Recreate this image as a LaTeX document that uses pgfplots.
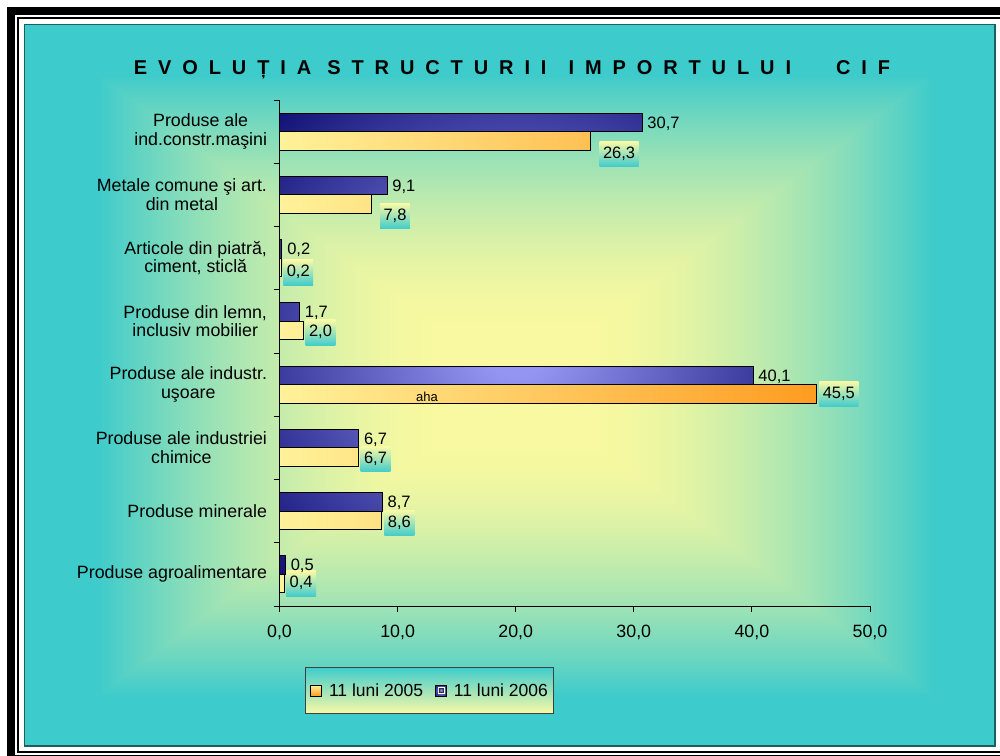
\documentclass[border=0pt]{standalone}
\usepackage{pgfplots}
\pgfplotsset{compat=1.18}
\usepackage{pgfplotstable}
\usepackage{fontspec}
\setmainfont{Liberation Sans}

\definecolor{panelB}{HTML}{1D5E5E}
\definecolor{blueIn}{HTML}{9494F2}
\definecolor{blueOut}{HTML}{141478}
\definecolor{orL}{HTML}{FFF29A}
\definecolor{orR}{HTML}{FF9C20}
\definecolor{lblY}{HTML}{FAFAA6}
\definecolor{lblC}{HTML}{40CCCC}

% rectangular "from centre" background gradient, yellow centre -> cyan border
\pgfdeclarefunctionalshading{bgfunc}{\pgfpointorigin}{\pgfpoint{967.3bp}{719.1bp}}{}{
  359.6 sub abs 359.6 div
  exch 488.7 sub abs 483.2 div
  2 copy lt {exch} if pop
  0.15 sub 0.71 div
  0 2 copy lt {exch} if pop
  1 2 copy gt {exch} if pop
  1.7 exp
  dup -0.730 mul 0.973 add
  exch dup -0.180 mul 0.976 add
  exch 0.169 mul 0.627 add
}
\pgfdeclareradialshading{bluebar}{\pgfpoint{0bp}{0bp}}{color(0bp)=(blueIn); color(3.5bp)=(blueIn); color(35bp)=(blueOut); color(50bp)=(blueOut)}

\newcommand{\lbl}{\fontsize{17.8}{18.5}\selectfont}
\newcommand{\val}{\fontsize{16.5}{18}\selectfont}
\newcommand{\gs}{\hspace{10.9pt}}

\pgfplotstableread{
y x dx dy
8 26.3 9 13
7 7.8 8 12
6 0.2 1 5
5 2.0 2 2
4 45.5 2 0
3 6.7 1.5 2
2 8.6 3 2.5
1 0.4 1.5 0
}\orangedata
\pgfplotstableread{
y x
8 30.7
7 9.1
6 0.2
5 1.7
4 40.1
3 6.7
2 8.7
1 0.5
}\bluedata

\begin{document}
\begin{tikzpicture}
\useasboundingbox (0pt,0pt) rectangle (1000pt,-755pt);
\begin{scope}
\clip (0pt,0pt) rectangle (1000pt,-755pt);
\fill[black] (7pt,-7pt) rectangle (1012pt,-763pt);
\fill[white] (15pt,-15pt) rectangle (1004pt,-755pt);
\fill[black] (17pt,-17pt) rectangle (1002pt,-753pt);
\fill[white] (19pt,-19pt) rectangle (1000pt,-751pt);
\node[inner sep=0pt, outer sep=0pt, anchor=south west] at (24.5pt,-746pt) {\pgfuseshading{bgfunc}};
\draw[panelB, line width=1.5pt] (24.5pt,-24.5pt) rectangle (995pt,-746pt);
\end{scope}

\node[font=\fontsize{20}{22}\selectfont\bfseries, anchor=base, inner sep=0pt] at (512pt,-74pt)
 {E\gs V\gs O\gs L\gs U\gs Ț\gs I\gs A\hspace{16pt}S\gs T\gs R\gs U\gs C\gs T\gs U\gs R\gs I\gs I\hspace{22pt}I\gs M\gs P\gs O\gs R\gs T\gs U\gs L\gs U\gs I\hspace{45pt}C\gs I\gs F};

\begin{axis}[
  at={(279.5pt,-606pt)}, anchor=south west,
  scale only axis, width=590.5pt, height=506pt,
  xmin=0, xmax=50, ymin=0.5, ymax=8.5,
  clip=false,
  axis x line*=bottom, axis y line*=left,
  axis line style={black, line width=1pt},
  tick align=outside,
  major tick length=6pt,
  tick style={black, line width=1pt},
  xtick={0,10,...,50},
  scaled x ticks=false,
  xticklabel style={font=\lbl, yshift=-10pt, /pgf/number format/.cd, fixed, fixed zerofill, precision=1, use comma, assume math mode=true},
  ytick={0.5,1.5,...,8.5},
  yticklabels={},
  extra y ticks={1,2,3,4,5,6,7,8},
  extra y tick labels={{Produse agroalimentare},{Produse minerale},{Produse ale industriei\\chimice},{Produse ale industr.\\uşoare},{Produse din lemn,\\inclusiv mobilier},{Articole din piatră,\\ciment, sticlă},{Metale comune şi art.\\din metal},{Produse ale\\ind.constr.maşini}},
  extra y tick style={major tick length=0pt, yticklabel style={font=\lbl, align=center, xshift=-9pt}},
  xbar, bar width=18.5pt,
  legend style={at={(0.0432,-0.1206)}, anchor=north west, draw=black!75, line width=0.8pt,
    top color=lblC, bottom color=lblY, font=\fontsize{17.5}{18}\selectfont,
    inner xsep=5pt, inner ysep=16pt, nodes={inner sep=0pt},
    /tikz/every odd column/.append style={column sep=7pt},
    /tikz/every even column/.append style={column sep=12pt}},
  legend columns=2,
]
\addplot[bar shift=-9.25pt, draw=black, line width=0.8pt, left color=orL, right color=orR,
  point meta=x,
  nodes near coords={\pgfmathprintnumber[fixed,fixed zerofill,precision=1,use comma,assume math mode=true]{\pgfplotspointmeta}},
  visualization depends on={\thisrow{dx} \as \lx},
  visualization depends on={\thisrow{dy} \as \ly},
  every node near coord/.append style={anchor=west, xshift=\lx pt, yshift=-\ly pt, text=black, font=\val,
    top color=lblY, bottom color=lblC, inner xsep=3.5pt, inner ysep=5pt, text height=12pt, text depth=3.5pt},
  legend image code/.code={\draw[black, line width=0.6pt, top color=orL, bottom color=orR] (0pt,-5.5pt) rectangle (11pt,5.5pt);}
] table[x=x,y=y] {\orangedata};
\addlegendentry{11 luni 2005}
\addplot[bar shift=9.25pt, draw=black, line width=0.8pt, shading=bluebar, shade,
  point meta=x,
  nodes near coords={\pgfmathprintnumber[fixed,fixed zerofill,precision=1,use comma,assume math mode=true]{\pgfplotspointmeta}},
  every node near coord/.append style={anchor=west, xshift=2pt, yshift=-1pt, text=black, font=\val, inner xsep=3pt},
  legend image code/.code={\fill[black] (0pt,-5.5pt) rectangle (11pt,5.5pt); \fill[white] (2.5pt,-3pt) rectangle (8.5pt,3.5pt); \fill[black!80] (3.5pt,-2pt) rectangle (7.5pt,2.5pt);}
] table[x=x,y=y] {\bluedata};
\addlegendentry{11 luni 2006}
\node[font=\fontsize{13}{14}\selectfont, text=black] at (axis cs:12.49,3.80) {aha};
\end{axis}
\end{tikzpicture}
\end{document}
